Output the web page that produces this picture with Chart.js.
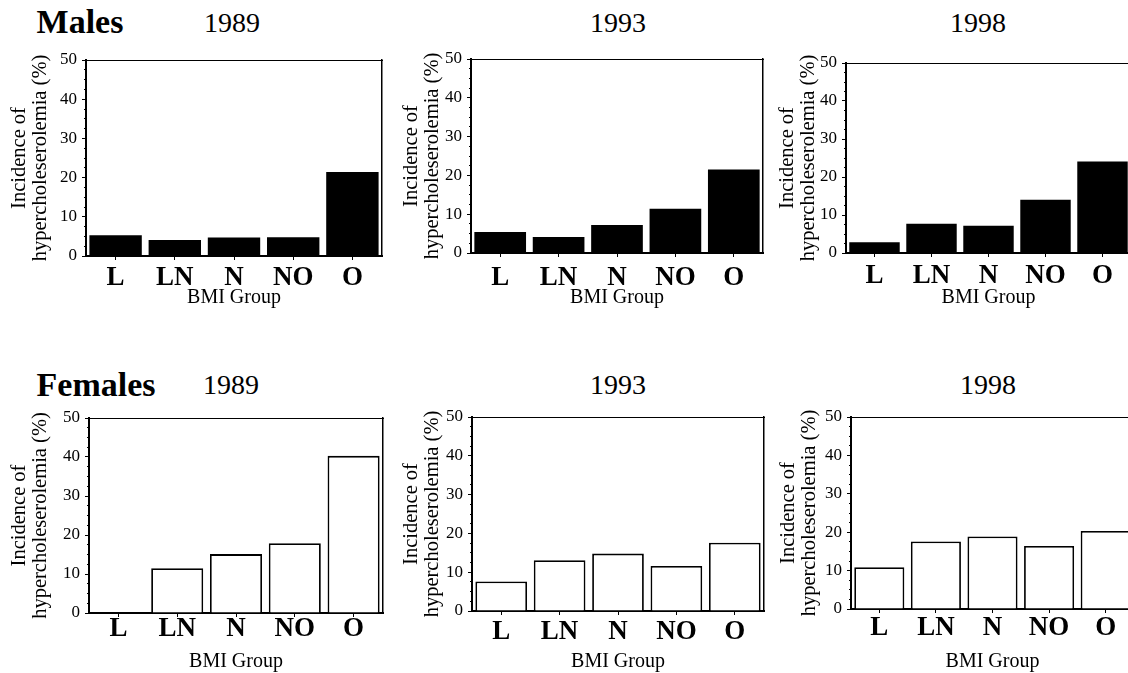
<!DOCTYPE html>
<html><head><meta charset="utf-8">
<script src="https://cdn.jsdelivr.net/npm/chart.js@4.4.1/dist/chart.umd.min.js"></script>
<style>
html,body{margin:0;padding:0;background:#fff;overflow:hidden;width:1128px;height:673px;position:relative}
canvas{position:absolute}
.t{position:absolute;font-family:"Liberation Serif","Times New Roman",serif;color:#000;white-space:nowrap;transform:translate(-50%,-50%);line-height:1}
.b{font-weight:bold;font-size:34px}
.y{font-size:28px}
</style></head><body>
<div class="t b" style="left:80px;top:22px">Males</div>
<div class="t b" style="left:96px;top:385px">Females</div>
<script>
// ---- data ----
const bmiGroups = ['L', 'LN', 'N', 'NO', 'O'];
const surveyYears = ['1989', '1993', '1998'];
const males1989 = [5.3, 4.1, 4.7, 4.8, 21.4];
const males1993 = [5.4, 4.1, 7.2, 11.4, 21.5];
const males1998 = [2.8, 7.7, 7.2, 14.0, 24.1];
const females1989 = [0, 11.5, 15.1, 17.9, 40.3];
const females1993 = [7.6, 13.1, 14.8, 11.6, 17.6];
const females1998 = [10.9, 17.6, 18.9, 16.4, 20.3];
const yAxisTitle = ['Incidence of', 'hypercholeserolemia (%)'];
const xAxisTitle = 'BMI Group';
const yMax = 50, yStep = 10, yMinorStep = 2.5;

const FAMILY = '"Liberation Serif","Times New Roman",serif';

// year headings
const yearPos = [[232, 23], [618, 23], [978, 23], [231, 385], [618, 385], [988, 385]];
yearPos.forEach((p, i) => {
  const d = document.createElement('div');
  d.className = 't y';
  d.style.left = p[0] + 'px'; d.style.top = p[1] + 'px';
  d.textContent = surveyYears[i % 3];
  document.body.appendChild(d);
});

// layout: canvas [x,y,w,h], chart area [L,T,R,B]
const panels = [
  {values: males1989,   female: false, canvas: [0, 40, 386, 270],   area: [86, 60, 382, 256],   titleOff: 20, labelPad: 2, bmiPad: 2},
  {values: males1993,   female: false, canvas: [386, 40, 380, 270], area: [471, 59, 763, 253],  titleOff: 26, labelPad: 5, bmiPad: 2},
  {values: males1998,   female: false, canvas: [766, 40, 380, 270], area: [846, 63, 1131, 253], titleOff: 22, labelPad: 3, bmiPad: 2},
  {values: females1989, female: true,  canvas: [0, 400, 386, 273],  area: [89, 418, 383, 613],  titleOff: 20, labelPad: -4, bmiPad: 1},
  {values: females1993, female: true,  canvas: [386, 400, 380, 273],area: [472, 417, 764, 611], titleOff: 26, labelPad: 1, bmiPad: 1},
  {values: females1998, female: true,  canvas: [766, 400, 380, 273],area: [851, 417, 1134, 609],titleOff: 23, labelPad: -1, bmiPad: 1}
];

function makePanel(p) {
  const [cx, cy, cw, ch] = p.canvas;
  const [L, T, R, B] = p.area;
  const cv = document.createElement('canvas');
  cv.width = cw; cv.height = ch;
  cv.style.left = cx + 'px'; cv.style.top = cy + 'px';
  cv.style.width = cw + 'px'; cv.style.height = ch + 'px';
  document.body.appendChild(cv);
  new Chart(cv, {
    type: 'bar',
    data: {
      labels: bmiGroups,
      datasets: [{
        data: p.values,
        backgroundColor: p.female ? '#fff' : '#000',
        borderColor: '#000',
        borderWidth: p.female ? 1.8 : 0,
        categoryPercentage: 1,
        barPercentage: 0.885
      }]
    },
    options: {
      responsive: false, animation: false, devicePixelRatio: 1,
      layout: {padding: {left: 0, top: T - cy, right: cx + cw - R, bottom: 0}},
      plugins: {legend: {display: false}, tooltip: {enabled: false}},
      scales: {
        x: {
          type: 'category', position: 'bottom', offset: true,
          grid: {display: true, drawOnChartArea: false, offset: false, tickLength: 4, color: '#000', tickColor: '#000', tickWidth: 1},
          border: {display: true, width: 2, color: '#000'},
          ticks: {color: '#000', font: {family: FAMILY, size: 27, weight: 'bold'}, padding: p.labelPad, maxRotation: 0, autoSkip: false},
          title: {display: true, text: xAxisTitle, color: '#000', font: {family: FAMILY, size: 20, lineHeight: 1}, padding: {top: 0, bottom: p.bmiPad}},
          afterFit: s => { s.height = cy + ch - B; }
        },
        y: {
          type: 'linear', position: 'left', weight: 1, min: 0, max: yMax,
          ticks: {stepSize: yStep, color: '#000', font: {family: FAMILY, size: 17}, padding: 5},
          grid: {drawOnChartArea: false, tickLength: 4, tickColor: '#000', tickWidth: 1},
          border: {display: true, width: 2, color: '#000'},
          title: {display: true, text: yAxisTitle, color: '#000', font: {family: FAMILY, size: 20.5, lineHeight: 0.98}, padding: {top: p.titleOff - 10, bottom: 0}},
          afterFit: s => { s.width = L - cx; }
        },
        yMinor: {
          type: 'linear', axis: 'y', position: 'left', weight: 0, min: 0, max: yMax,
          ticks: {stepSize: yMinorStep, display: false},
          grid: {display: true, drawOnChartArea: false, tickLength: 2, tickColor: '#000', tickWidth: 1},
          border: {display: false},
          afterFit: s => { s.width = 0; }
        },
        x2: {
          type: 'category', axis: 'x', position: 'top', labels: bmiGroups, offset: true,
          grid: {display: false}, ticks: {display: false},
          border: {display: true, width: 1, color: '#000'},
          afterFit: s => { s.height = 0; }
        },
        y2: {
          type: 'linear', axis: 'y', position: 'right', min: 0, max: yMax,
          grid: {display: false}, ticks: {display: false},
          border: {display: true, width: 1.5, color: '#000'},
          afterFit: s => { s.width = 0; }
        }
      }
    }
  });
}
panels.forEach(makePanel);
</script>
</body></html>
